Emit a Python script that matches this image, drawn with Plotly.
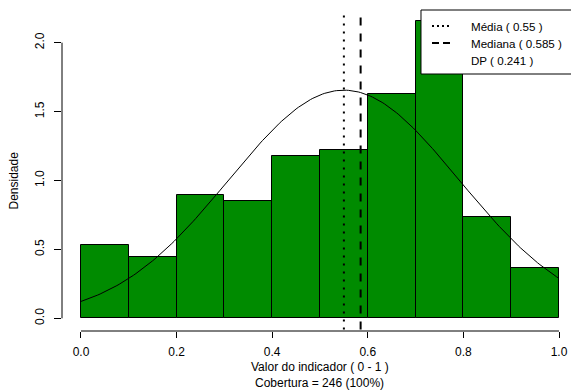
import numpy as np
import plotly.graph_objects as go

# histogram of the indicator (bins of 0.1 on 0-1)
bin_edges = [0.0, 0.1, 0.2, 0.3, 0.4, 0.5, 0.6, 0.7, 0.8, 0.9, 1.0]
counts = [13, 11, 22, 21, 29, 30, 40, 53, 18, 9]
n_total = 246
mean_val = 0.55
median_val = 0.585
sd_val = 0.241

x_ticks = [0.0, 0.2, 0.4, 0.6, 0.8, 1.0]
y_ticks = [0.0, 0.5, 1.0, 1.5, 2.0]

font = "Liberation Sans, Arial, sans-serif"

widths = np.diff(bin_edges)
centers = np.array(bin_edges[:-1]) + widths / 2
density = np.array(counts) / (n_total * widths)

# normal curve from mean and sd
xs = np.linspace(bin_edges[0], bin_edges[-1], 201)
ys = np.exp(-0.5 * ((xs - mean_val) / sd_val) ** 2) / (sd_val * np.sqrt(2 * np.pi))

fig = go.Figure()

fig.add_trace(go.Bar(
    x=centers,
    y=density,
    width=widths,
    marker=dict(color='#008B00', line=dict(color='black', width=1)),
    showlegend=False,
    hoverinfo='y'
))

fig.add_trace(go.Scatter(
    x=xs,
    y=ys,
    mode='lines',
    line=dict(color='black', width=1),
    showlegend=False,
    hoverinfo='skip'
))

shapes = []
# mean / median vertical lines
shapes.append(dict(type='line', xref='x', yref='paper', x0=mean_val, x1=mean_val,
                   y0=0.005, y1=1, line=dict(color='black', width=2, dash='2px,6px')))
shapes.append(dict(type='line', xref='x', yref='paper', x0=median_val, x1=median_val,
                   y0=0.005, y1=1, line=dict(color='black', width=2, dash='8px,8px')))
# R style axis lines, only over the tick span
shapes.append(dict(type='line', xref='paper', yref='y', x0=0, x1=0,
                   y0=y_ticks[0], y1=y_ticks[-1], line=dict(color='black', width=1)))
shapes.append(dict(type='line', xref='x', yref='paper', x0=x_ticks[0], x1=x_ticks[-1],
                   y0=0, y1=0, line=dict(color='black', width=1)))

# legend box
shapes.append(dict(type='rect', xref='paper', yref='paper', x0=0.7053, x1=1.02,
                   y0=0.8006, y1=1.0, fillcolor='white', line=dict(color='black', width=1),
                   layer='above'))

legend_rows = [
    ('Média ( %s )' % mean_val, '2px,3px'),
    ('Mediana ( %s )' % median_val, '7px,4px'),
    ('DP ( %s )' % sd_val, None),
]
row_y = [26, 43, 60]
annotations = []
for (label, dash), py in zip(legend_rows, row_y):
    yp = (331 - py) / 321
    if dash:
        shapes.append(dict(type='line', xref='paper', yref='paper',
                           x0=(432 - 62) / 509, x1=(451 - 62) / 509, y0=yp, y1=yp,
                           line=dict(color='black', width=2, dash=dash), layer='above'))
    annotations.append(dict(xref='paper', yref='paper', x=(469 - 62) / 509, y=yp,
                            xanchor='left', yanchor='middle', text=label, showarrow=False,
                            font=dict(family=font, size=11.6, color='black')))

annotations.append(dict(xref='paper', yref='y', x=0, y=1.0, xshift=-48, text='Densidade',
                        textangle=-90, showarrow=False, xanchor='center', yanchor='middle',
                        font=dict(family=font, size=12, color='black')))
annotations.append(dict(xref='x', yref='paper', x=0.5, y=0, yshift=-36,
                        text='Valor do indicador ( 0 - 1 )', showarrow=False,
                        xanchor='center', yanchor='middle',
                        font=dict(family=font, size=12, color='black')))
annotations.append(dict(xref='x', yref='paper', x=0.5, y=0, yshift=-52,
                        text='Cobertura = %d (100%%)' % n_total, showarrow=False,
                        xanchor='center', yanchor='middle',
                        font=dict(family=font, size=12, color='black')))

fig.update_layout(
    width=571,
    height=392,
    margin=dict(l=62, r=0, t=10, b=61),
    paper_bgcolor='white',
    plot_bgcolor='white',
    bargap=0,
    font=dict(family=font, size=12, color='black'),
    shapes=shapes,
    annotations=annotations,
    xaxis=dict(
        range=[-0.0397, 1.0251],
        tickvals=x_ticks,
        ticktext=['%.1f' % v for v in x_ticks],
        ticks='outside', ticklen=6, tickcolor='black',
        showgrid=False, zeroline=False, showline=False,
        automargin=False, ticklabelstandoff=4,
    ),
    yaxis=dict(
        range=[-0.092, 2.237],
        tickvals=y_ticks,
        ticktext=['%.1f' % v for v in y_ticks],
        tickangle=-90,
        ticks='outside', ticklen=7, tickcolor='black',
        showgrid=False, zeroline=False, showline=False,
        automargin=False, ticklabelstandoff=5,
    ),
)

# page body has a default 8px margin; drop it so the figure sits at the corner
fig.write_html("out.html", config={'displayModeBar': False},
               post_script="document.body.style.margin='0';")
